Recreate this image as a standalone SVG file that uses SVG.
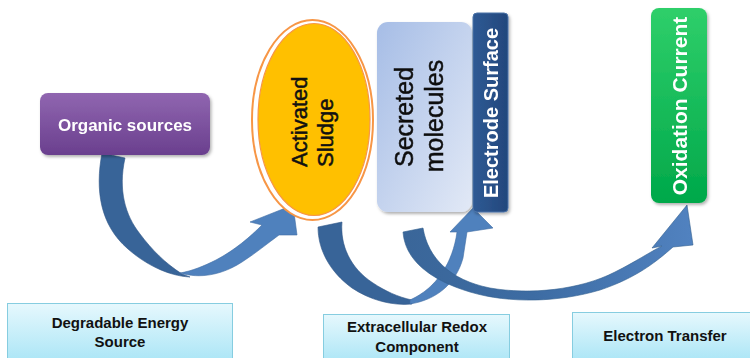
<svg xmlns="http://www.w3.org/2000/svg" width="750" height="358" viewBox="0 0 750 358">
<defs>
<linearGradient id="gPurple" x1="0" y1="0" x2="0" y2="1"><stop offset="0" stop-color="#9066b0"/><stop offset="1" stop-color="#6a3f8e"/></linearGradient>
<linearGradient id="gSec" x1="0" y1="0" x2="1" y2="1"><stop offset="0" stop-color="#a6bde6"/><stop offset="1" stop-color="#e2e9f6"/></linearGradient>
<linearGradient id="gElec" x1="0" y1="0" x2="1" y2="0"><stop offset="0" stop-color="#2f5a94"/><stop offset="1" stop-color="#23477c"/></linearGradient>
<linearGradient id="gGreen" x1="0" y1="0" x2="0" y2="1"><stop offset="0" stop-color="#2fcf6a"/><stop offset="1" stop-color="#00a84a"/></linearGradient>
<linearGradient id="gCyan" x1="0" y1="0" x2="0" y2="1"><stop offset="0" stop-color="#e6f8fd"/><stop offset="1" stop-color="#a9e5f6"/></linearGradient>
<linearGradient id="gArr3" x1="0" y1="0" x2="1" y2="0"><stop offset="0" stop-color="#3a6699"/><stop offset="0.45" stop-color="#3d6ca3"/><stop offset="1" stop-color="#5182c0"/></linearGradient>
<filter id="sh" x="-20%" y="-20%" width="140%" height="140%"><feDropShadow dx="1.5" dy="2" stdDeviation="1.5" flood-color="#000" flood-opacity="0.3"/></filter>
</defs>
<style>
.t{font-family:"Liberation Sans",Arial,sans-serif}
.wb{fill:#fff;font-weight:bold}
.bk{fill:#111;stroke:#111;stroke-width:0.5}
.lab{fill:#111;font-weight:bold;font-size:15px;text-anchor:middle}
.cbox{fill:url(#gCyan);stroke:#86cde0;stroke-width:1}
.dark{fill:#386498;stroke:#2f5686;stroke-width:0.6}
.light{fill:#4f81bd;stroke:#3f6da5;stroke-width:0.6}
</style>
<rect width="750" height="358" fill="#fff"/>

<g id="connectors">
<path class="dark" d="M102,153 L125,158 C118,190 125,215 140,234 C152,250 165,263 182,274 L190,277 C168,276 145,264 128,249 C100,225 95,190 102,153 Z"/>
<path class="light" d="M180,273 C200,279 222,275 242,262 C256,253 268,243 279,235 L297,235 L293,205 L250,222 L262,225 C250,237 235,250 216,260 C204,266 192,271 180,273 Z"/>
<path class="dark" d="M318,227 L342,222 C340,245 350,268 373,283 C385,291 398,297 412,300 L412,304 C392,306 370,300 352,288 C330,272 318,250 318,227 Z"/>
<path class="light" d="M410,304 C436,300 456,284 463,258 L467,232 L493,228 L473,208 L450,232 L457,232 C453,262 437,288 410,300 Z"/>
<path fill="url(#gArr3)" stroke="#33608f" stroke-width="0.6" d="M403,232 L423,228 C428,258 450,280 490,288 C530,295 580,290 615,272 C635,262 650,252 662,246 L652,248 L687,205 L693,245 L673,247 C656,262 636,278 600,290 C560,302 510,304 470,292 C430,280 405,260 403,232 Z"/>
</g>

<g id="organic" filter="url(#sh)">
<rect x="40" y="93" width="170" height="62" rx="8" fill="url(#gPurple)"/>
<text class="t wb" x="125" y="131" font-size="17" text-anchor="middle">Organic sources</text>
</g>

<g id="sludge">
<ellipse cx="312.5" cy="120" rx="60.5" ry="100" fill="#fff" stroke="#f79646" stroke-width="2"/>
<ellipse cx="314" cy="119.5" rx="56" ry="96" fill="#ffc000" stroke="#f79646" stroke-width="1.2"/>
<text class="t bk" font-size="22" transform="translate(307,167) rotate(-90)">Activated</text>
<text class="t bk" font-size="22" transform="translate(333,167) rotate(-90)">Sludge</text>
</g>

<g id="secreted" filter="url(#sh)">
<rect x="377" y="22" width="95" height="190" rx="11" fill="url(#gSec)"/>
<text class="t bk" font-size="25" text-anchor="middle" transform="translate(413,117) rotate(-90)">Secreted</text>
<text class="t bk" font-size="25" text-anchor="middle" transform="translate(443,116) rotate(-90)">molecules</text>
</g>

<g id="electrode" filter="url(#sh)">
<rect x="473" y="13" width="35" height="199" rx="4" fill="url(#gElec)" stroke="#4a72a8" stroke-width="1"/>
<text class="t wb" font-size="20" text-anchor="middle" transform="translate(498,113) rotate(-90)">Electrode Surface</text>
</g>

<g id="oxidation" filter="url(#sh)">
<rect x="651" y="8" width="56" height="195" rx="8" fill="url(#gGreen)"/>
<text class="t wb" font-size="21" text-anchor="middle" transform="translate(687,106) rotate(-90)">Oxidation Current</text>
</g>

<g id="degradable">
<rect class="cbox" x="7.5" y="303.5" width="225" height="60"/>
<text class="t lab" x="120" y="328">Degradable Energy</text>
<text class="t lab" x="120" y="347">Source</text>
</g>

<g id="extracellular">
<rect class="cbox" x="323.5" y="314.5" width="186" height="50"/>
<text class="t lab" x="417" y="332">Extracellular Redox</text>
<text class="t lab" x="417" y="352">Component</text>
</g>

<g id="electron">
<rect class="cbox" x="572.5" y="312.5" width="185" height="50"/>
<text class="t lab" x="665" y="341">Electron Transfer</text>
</g>
</svg>
